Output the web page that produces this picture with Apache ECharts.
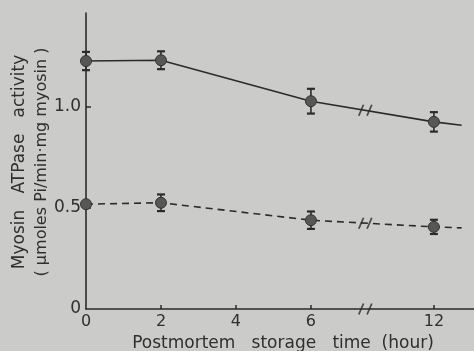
<!DOCTYPE html>
<html><head><meta charset="utf-8">
<script src="https://cdn.jsdelivr.net/npm/echarts@6/dist/echarts.min.js"></script>
<style>html,body{margin:0;padding:0;background:#cbcbc9;} #c{width:474px;height:351px;}</style>
</head><body><div id="c"></div>
<script>
// ---- data ----
const hours = [0, 2, 6, 12];
const solidValues = [1.223, 1.227, 1.025, 0.923];
const solidErrors = [0.045, 0.044, 0.061, 0.048];
const dashedValues = [0.517, 0.524, 0.438, 0.405];
const dashedErrors = [0, 0.041, 0.043, 0.035];
const lineEndHour = 12.74;      // where the drawn lines stop on the right
const solidEndValue = 0.906;
const dashedEndValue = 0.400;
const xTickHours = [0, 2, 4, 6, 12];
const yTickValues = [0, 0.5, 1.0];

// ---- broken time axis: hours beyond the break are shifted left ----
const BREAK_AT = 7.45;
const BREAK_SKIP = 2.72;
function pos(h) { return h <= BREAK_AT ? h : h - BREAK_SKIP; }
function hourOf(p) {
  let best = xTickHours[0];
  xTickHours.forEach(h => { if (Math.abs(pos(h) - p) < Math.abs(pos(best) - p)) best = h; });
  return best;
}
function valueAtBreak(vals) {
  const p0 = pos(hours[2]), p1 = pos(hours[3]);
  return vals[2] + (vals[3] - vals[2]) * (BREAK_AT - p0) / (p1 - p0);
}

const INK = '#2b2b2b';
const lineData = (vals, endVal) => hours.map((h, i) => [pos(h), vals[i]])
  .concat([{ value: [pos(lineEndHour), endVal], symbol: 'none' }]);
const errData = (vals, errs) => hours.map((h, i) => [pos(h), vals[i], errs[i]]);

function renderErr(params, api) {
  const x = api.value(0), y = api.value(1), e = api.value(2);
  if (!e) return null;
  const t = api.coord([x, y + e]), b = api.coord([x, y - e]);
  const w = 4;
  const st = { stroke: INK, lineWidth: 1.6 };
  const st2 = { stroke: INK, lineWidth: 2.2 };
  return { type: 'group', children: [
    { type: 'line', shape: { x1: t[0], y1: t[1], x2: b[0], y2: b[1] }, style: st },
    { type: 'line', shape: { x1: t[0] - w, y1: t[1], x2: t[0] + w, y2: t[1] }, style: st2 },
    { type: 'line', shape: { x1: b[0] - w, y1: b[1], x2: b[0] + w, y2: b[1] }, style: st2 }
  ]};
}

const FONT = 'DejaVu Sans';
const chart = echarts.init(document.getElementById('c'), null, { renderer: 'canvas' });
const markerStyle = { color: '#575757', borderColor: '#333', borderWidth: 1 };

chart.setOption({
  backgroundColor: '#cbcbc9',
  animation: false,
  grid: { left: 86, right: 0, top: 13, bottom: 42, containLabel: false, outerBoundsMode: 'none' },
  xAxis: {
    type: 'value', min: 0, max: 10.35,
    axisLine: { show: true, lineStyle: { color: INK, width: 1.6 } },
    axisTick: { show: true, inside: true, length: 4, customValues: xTickHours.slice(1).map(pos), lineStyle: { color: INK, width: 1.5 } },
    axisLabel: { customValues: xTickHours.map(pos), formatter: v => String(hourOf(v)), color: '#2f2f2f', fontFamily: FONT, fontSize: 16, margin: 5 },
    splitLine: { show: false },
    name: 'Postmortem   storage   time  (hour)', nameLocation: 'middle', nameGap: 23,
    nameTextStyle: { color: '#2f2f2f', fontFamily: FONT, fontSize: 17, padding: [0, 0, 0, 6] }
  },
  yAxis: {
    type: 'value', min: 0, max: 1.46,
    axisLine: { show: true, lineStyle: { color: INK, width: 1.6 } },
    axisTick: { show: true, inside: true, length: 5, customValues: yTickValues.slice(1), lineStyle: { color: INK, width: 1.5 } },
    axisLabel: { customValues: yTickValues, formatter: v => v === 0 ? '0' : v.toFixed(1), color: '#2f2f2f', fontFamily: FONT, fontSize: 17, margin: 5 },
    splitLine: { show: false }
  },
  graphic: [{
    type: 'text', x: 31, y: 162, rotation: Math.PI / 2,
    style: { text: '{a|Myosin   ATPase   activity}\n{b|( μmoles Pi/min·mg myosin )}', textAlign: 'center', textVerticalAlign: 'middle',
      fontFamily: FONT, fontSize: 16, lineHeight: 22, fill: '#2f2f2f',
      rich: { a: { fontFamily: FONT, fontSize: 17, lineHeight: 22, fill: '#2f2f2f' }, b: { fontFamily: FONT, fontSize: 16, lineHeight: 22, fill: '#2f2f2f' } } }
  }],
  series: [
    { type: 'custom', renderItem: renderErr, data: errData(solidValues, solidErrors), z: 2, clip: false },
    { type: 'custom', renderItem: renderErr, data: errData(dashedValues, dashedErrors), z: 2, clip: false },
    { type: 'line', data: lineData(solidValues, solidEndValue), symbol: 'circle', symbolSize: 11, showSymbol: true,
      lineStyle: { color: INK, width: 1.6 }, itemStyle: markerStyle, z: 3, clip: false },
    { type: 'line', data: lineData(dashedValues, dashedEndValue), symbol: 'circle', symbolSize: 11, showSymbol: true,
      lineStyle: { color: INK, width: 1.6, type: [7, 5] }, itemStyle: markerStyle, z: 3, clip: false },
    { type: 'scatter', z: 4, clip: false,
      data: [[BREAK_AT, valueAtBreak(solidValues)], [BREAK_AT, valueAtBreak(dashedValues)], [BREAK_AT, 0]],
      symbol: 'path://M0,10L4,0M7,10L11,0', symbolSize: [13, 11],
      itemStyle: { color: 'rgba(0,0,0,0)', borderColor: INK, borderWidth: 1.6 } }
  ]
});
</script></body></html>
